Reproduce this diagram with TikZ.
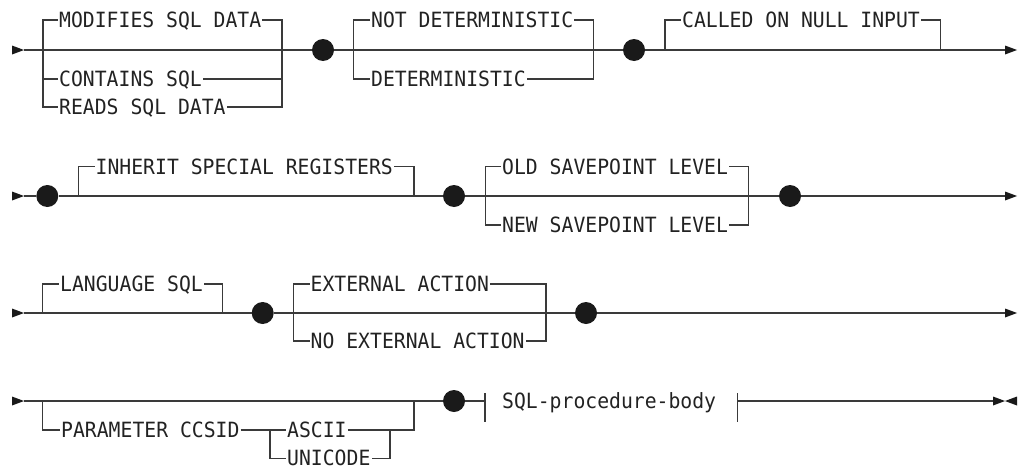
\documentclass[tikz,border=0pt]{standalone}
\usepackage{fontspec}
\newfontfamily\dgfont[FakeStretch=0.94]{DejaVu Sans Mono}
\definecolor{lc}{HTML}{3A3A3A}
\definecolor{tc}{HTML}{222222}
\definecolor{dc}{HTML}{1A1A1A}
\begin{document}
\begin{tikzpicture}[x=1pt,y=-1pt,
 ln/.style={draw=lc,line width=1.4pt},
 lbl/.style={font=\dgfont\fontsize{21}{21}\selectfont, text=tc, inner xsep=1pt, inner ysep=0pt, text height=15.3pt, text depth=0pt, anchor=west},
 dot/.style={circle,fill=dc,inner sep=0pt,minimum size=22pt},
]
\useasboundingbox (0,0) rectangle (1019,471);

% ---------- Row 1
\coordinate (s1) at (24,50);
\fill[dc] (12,45.5) -- (s1) -- (12,54.5) -- cycle;
\node[lbl] (t11) at (58,20) {MODIFIES SQL DATA};
\node[lbl] (t12) at (58,79) {CONTAINS SQL};
\node[lbl] (t13) at (58,107) {READS SQL DATA};
\draw[ln] (t11.west) -| (43,107) -- (t13.west);
\draw[ln] (43,79) -- (t12.west);
\draw[ln] (t11.east) -| (282,107) -- (t13.east);
\draw[ln] (t12.east) -- (282,79);
\node[dot] (d1) at (323,50) {};
\draw[ln] (s1) -- (d1);
\node[lbl] (t21) at (370,20) {NOT DETERMINISTIC};
\node[lbl] (t22) at (370,79) {DETERMINISTIC};
\draw[ln] (t21.west) -| (353.3,79) -- (t22.west);
\draw[ln] (t21.east) -| (593.3,79) -- (t22.east);
\node[dot] (d2) at (634,50) {};
\draw[ln] (d1) -- (d2);
\node[lbl] (t31) at (681,20) {CALLED ON NULL INPUT};
\draw[ln] (665,50) |- (t31.west);
\draw[ln] (t31.east) -| (940.7,50);
\coordinate (e1) at (1005,50);
\draw[ln] (d2) -- (e1);
\fill[dc] (1005,45.5) -- (1017,50) -- (1005,54.5) -- cycle;

% ---------- Row 2
\coordinate (s2) at (24,196);
\fill[dc] (12,191.5) -- (s2) -- (12,200.5) -- cycle;
\node[dot] (d3) at (47.3,196) {};
\draw[ln] (s2) -- (d3);
\node[lbl] (t41) at (94.5,166.7) {INHERIT SPECIAL REGISTERS};
\draw[ln] (78.3,196) |- (t41.west);
\draw[ln] (t41.east) -| (414,196);
\node[dot] (d4) at (454,196) {};
\draw[ln] (d3) -- (d4);
\node[lbl] (t51) at (501,166.7) {OLD SAVEPOINT LEVEL};
\node[lbl] (t52) at (501,225) {NEW SAVEPOINT LEVEL};
\draw[ln] (t51.west) -| (485.7,225) -- (t52.west);
\draw[ln] (t51.east) -| (748.3,225) -- (t52.east);
\node[dot] (d5) at (790,196) {};
\draw[ln] (d4) -- (d5);
\coordinate (e2) at (1005,196);
\draw[ln] (d5) -- (e2);
\fill[dc] (1005,191.5) -- (1017,196) -- (1005,200.5) -- cycle;

% ---------- Row 3
\coordinate (s3) at (24,313);
\fill[dc] (12,308.5) -- (s3) -- (12,317.5) -- cycle;
\node[lbl] (t61) at (59,284) {LANGUAGE SQL};
\draw[ln] (42.7,313) |- (t61.west);
\draw[ln] (t61.east) -| (222.3,313);
\node[dot] (d6) at (262.7,313) {};
\draw[ln] (s3) -- (d6);
\node[lbl] (t71) at (309.5,284) {EXTERNAL ACTION};
\node[lbl] (t72) at (309.5,341) {NO EXTERNAL ACTION};
\draw[ln] (t71.west) -| (293.3,341) -- (t72.west);
\draw[ln] (t71.east) -| (546,341) -- (t72.east);
\node[dot] (d7) at (586,313) {};
\draw[ln] (d6) -- (d7);
\coordinate (e3) at (1005,313);
\draw[ln] (d7) -- (e3);
\fill[dc] (1005,308.5) -- (1017,313) -- (1005,317.5) -- cycle;

% ---------- Row 4
\coordinate (s4) at (24,401);
\fill[dc] (12,396.5) -- (s4) -- (12,405.5) -- cycle;
\node[lbl] (t81) at (60,430) {PARAMETER CCSID};
\node[lbl] (t82) at (286,430) {ASCII};
\node[lbl] (t83) at (286,458.3) {UNICODE};
\draw[ln] (42.7,401) |- (t81.west);
\draw[ln] (t81.east) -- (t82.west);
\draw[ln] (270,430) |- (t83.west);
\draw[ln] (t82.east) -| (414,401);
\draw[ln] (390,430) |- (t83.east);
\node[dot] (d8) at (454,401) {};
\draw[ln] (s4) -- (d8);
\coordinate (b1) at (485,401);
\draw[ln] (d8) -- (b1);
\draw[ln] (485,393) -- (485,422);
\node[lbl] (t9) at (501,401) {SQL-procedure-body};
\coordinate (b2) at (737.3,401);
\draw[ln] (737.3,393) -- (737.3,422);
\coordinate (e4) at (993,401);
\draw[ln] (b2) -- (e4);
\fill[dc] (993,396.5) -- (1005,401) -- (993,405.5) -- cycle;
\fill[dc] (1017,396.5) -- (1005,401) -- (1017,405.5) -- cycle;
\end{tikzpicture}
\end{document}
